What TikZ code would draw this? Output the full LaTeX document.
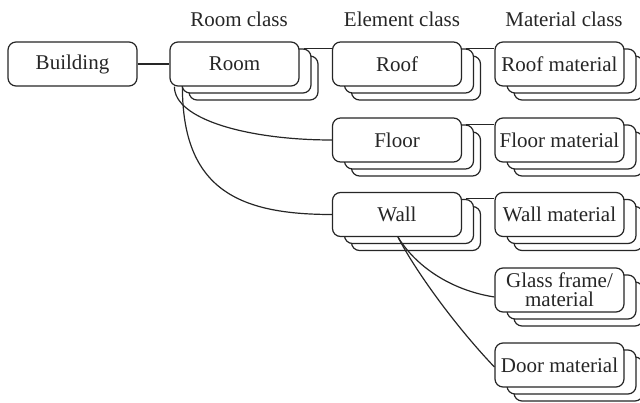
\documentclass[tikz,border=0pt]{standalone}
\usepackage{fontspec}
\setmainfont{Liberation Serif}
\pgfdeclarelayer{shad}
\pgfdeclarelayer{conn}
\pgfsetlayers{shad,conn,main}
\definecolor{ink}{HTML}{262626}
\tikzset{
  box/.style={draw=ink, rounded corners=8pt, minimum width=129pt, minimum height=44pt,
    fill=white, line width=1.2pt, inner sep=0pt, align=center, text=ink,
    font=\fontsize{21}{19}\selectfont},
  head/.style={text=ink, font=\fontsize{21}{19}\selectfont},
  conline/.style={draw=ink, line width=1.2pt}
}
\begin{document}
\begin{tikzpicture}[x=1pt,y=1pt]
\useasboundingbox (0,0) rectangle (640,402);
% headers
\node[head] (h1) at (239,383) {Room class};
\node[head] (h2) at (402,383) {Element class};
\node[head] (h3) at (564,383) {Material class};
% front boxes
\node[box] (building) at (72.5,338) {Building};
\node[box] (room) at (234.5,338) {Room};
\node[box] (roof) at (397,338) {Roof};
\node[box] (roofm) at (559.5,338) {Roof material};
\node[box] (floor) at (397,262) {Floor};
\node[box] (floorm) at (559.5,262) {Floor material};
\node[box] (wall) at (397,187.5) {Wall};
\node[box] (wallm) at (559.5,187.5) {Wall material};
\node[box] (glass) at (559.5,112) {Glass frame/\\material};
\node[box] (door) at (559.5,37) {Door material};
% shadow copies
\begin{pgfonlayer}{shad}
\foreach \n in {room,roof,roofm,floor,floorm,wall,wallm,glass,door}{
  \node[box] (\n-s2) at ([shift={(19,-14)}]\n.center) {};
  \node[box] (\n-s1) at ([shift={(12,-7)}]\n.center) {};
}
\end{pgfonlayer}
% connectors
\begin{pgfonlayer}{conn}
\draw[conline] (building.east) -- (room.west);
\draw[conline] ([xshift=-8pt]room-s1.north east) -- (roof.west |- room-s1.north);
\draw[conline] ([xshift=-8pt]roof-s1.north east) -- (roofm.west |- roof-s1.north);
\draw[conline] ([xshift=-8pt]floor-s1.north east) -- (floorm.west |- floor-s1.north);
\draw[conline] ([xshift=-8pt]wall-s1.north east) -- (wallm.west |- wall-s1.north);
\draw[conline] ([xshift=5pt]room.south west) .. controls +(0,-33) and +(-83,0) .. (floor.west);
\draw[conline] ([xshift=13pt]room.south west) .. controls +(0,-103) and +(-93,0) .. (wall.west);
\draw[conline] ([xshift=1pt]wall.south) .. controls +(17,-28) and +(-45,7) .. ([yshift=-7pt]glass.west);
\draw[conline] ([xshift=1pt]wall.south) .. controls +(17,-33) and +(-40,42) .. ([yshift=-2pt]door.west);
\end{pgfonlayer}
\end{tikzpicture}
\end{document}
